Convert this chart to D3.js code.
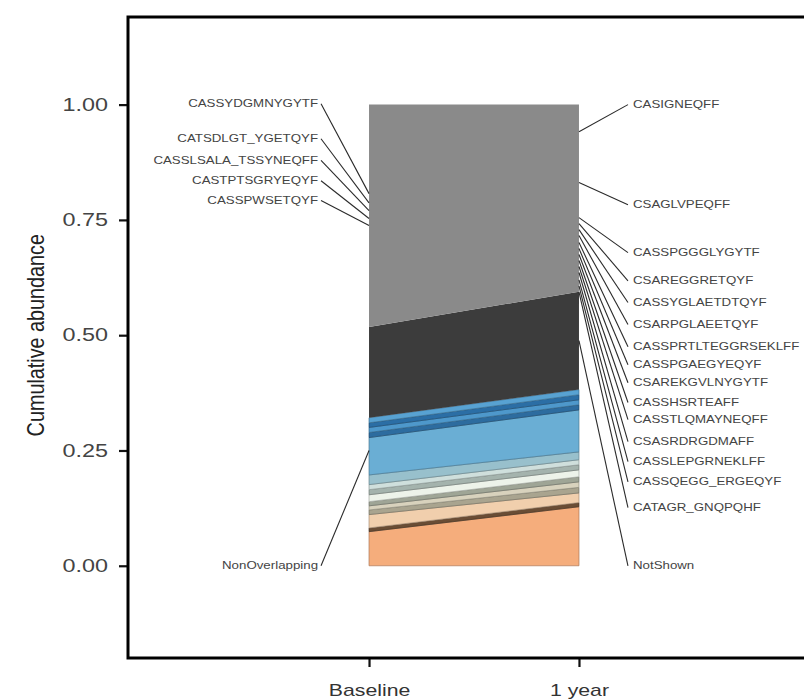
<!DOCTYPE html>
<html>
<head>
<meta charset="utf-8">
<script src="https://cdn.jsdelivr.net/npm/d3@7"></script>
<style>
  body { margin: 0; background: #fff; }
  svg text { font-family: "Liberation Sans", Arial, sans-serif; }
</style>
</head>
<body>
<div id="chart"></div>
<script>
// clonotype layers, bottom of the stack to the top
let layers = ["c01","c02","c03","c04","c05","c06","c07","c08","c09","c10",
              "NonOverlapping","c12","c13","c14","c15","NotShown","top"];
let baseline = [0.074,0.008,0.029,0.010,0.009,0.009,0.015,0.011,0.011,0.021,
                0.081,0.011,0.011,0.010,0.011,0.197,0.482];
let oneYear  = [0.128,0.009,0.021,0.012,0.012,0.011,0.015,0.011,0.011,0.017,
                0.091,0.011,0.011,0.011,0.011,0.212,0.406];
let timepoints = ["Baseline", "1 year"];
let yTicks = [0, 0.25, 0.5, 0.75, 1];

// labels on the left side (baseline)
let leftLabels = ["CASSYDGMNYGYTF","CATSDLGT_YGETQYF","CASSLSALA_TSSYNEQFF",
                  "CASTPTSGRYEQYF","CASSPWSETQYF","NonOverlapping"];
let leftLabelAt = [1.002, 0.926, 0.879, 0.835, 0.792, 0.0];
let leftTarget  = [0.807, 0.787, 0.770, 0.753, 0.738, 0.25];

// labels on the right side (1 year)
let rightLabels = ["CASIGNEQFF","CSAGLVPEQFF","CASSPGGGLYGYTF","CSAREGGRETQYF",
                   "CASSYGLAETDTQYF","CSARPGLAEETQYF","CASSPRTLTEGGRSEKLFF",
                   "CASSPGAEGYEQYF","CSAREKGVLNYGYTF","CASSHSRTEAFF",
                   "CASSTLQMAYNEQFF","CSASRDRGDMAFF","CASSLEPGRNEKLFF",
                   "CASSQEGG_ERGEQYF","CATAGR_GNQPQHF","NotShown"];
let rightLabelAt = [1.0, 0.783, 0.679, 0.618, 0.571, 0.523, 0.475, 0.436, 0.397,
                    0.354, 0.317, 0.269, 0.226, 0.182, 0.126, 0.0];
let rightTarget  = [0.941, 0.831, 0.755, 0.742, 0.729, 0.716, 0.701, 0.688, 0.675,
                    0.662, 0.649, 0.636, 0.620, 0.607, 0.594, 0.488];

let svgWidth = 804;
let svgHeight = 700;

let panel = { left: 128, top: 17, right: 820, bottom: 658 };

let svg = d3.select("#chart")
  .append("svg")
  .attr("width", svgWidth)
  .attr("height", svgHeight);

let x = d3.scalePoint()
  .domain(timepoints)
  .range([panel.left, panel.right])
  .padding(1.148);

let y = d3.scaleLinear()
  .domain([-0.2, 1.19])
  .range([panel.bottom, panel.top]);

let color = d3.scaleOrdinal()
  .domain(layers)
  .range(["#f5ad7c","#6a4d35","#f1cfad","#a9a48f","#d8d2bd","#9fa596","#edf3ea",
          "#a4b3ad","#cfdfdc","#98c0cc","#6aaed4","#2d6c9f","#4e98cb","#2b6ea5",
          "#58a2d2","#3c3c3c","#8a8a8a"]);

// build the table for d3.stack
let table = timepoints.map((t, i) => {
  let row = { time: t };
  layers.forEach((k, j) => { row[k] = i === 0 ? baseline[j] : oneYear[j]; });
  return row;
});

let series = d3.stack().keys(layers)(table);

let area = d3.area()
  .x(d => x(d.data.time))
  .y0(d => y(d[0]))
  .y1(d => y(d[1]));

svg.append("g")
  .selectAll("path")
  .data(series)
  .enter()
  .append("path")
  .attr("d", area)
  .attr("fill", d => color(d.key))
  .attr("stroke", d => (d.key === "top" || d.key === "NotShown") ? "none" : d3.color(color(d.key)).darker(1))
  .attr("stroke-width", 0.7);

// leader lines + labels
let xb = x("Baseline");
let xy = x("1 year");
let labelScale = 1.33;

let leftG = svg.append("g");
leftLabels.forEach((name, i) => {
  leftG.append("line")
    .attr("x1", xb - 48).attr("y1", y(leftLabelAt[i]))
    .attr("x2", xb).attr("y2", y(leftTarget[i]))
    .attr("stroke", "#2a2a2a").attr("stroke-width", 1.1);
  leftG.append("text")
    .attr("transform", `translate(${xb - 51},${y(leftLabelAt[i])}) scale(${labelScale},1)`)
    .attr("text-anchor", "end")
    .attr("dy", "0.35em")
    .attr("font-size", "10px")
    .attr("fill", "#444")
    .text(name);
});

let rightG = svg.append("g");
rightLabels.forEach((name, i) => {
  rightG.append("line")
    .attr("x1", xy).attr("y1", y(rightTarget[i]))
    .attr("x2", xy + 49).attr("y2", y(rightLabelAt[i]))
    .attr("stroke", "#2a2a2a").attr("stroke-width", 1.1);
  rightG.append("text")
    .attr("transform", `translate(${xy + 54},${y(rightLabelAt[i])}) scale(${labelScale},1)`)
    .attr("text-anchor", "start")
    .attr("dy", "0.35em")
    .attr("font-size", "10px")
    .attr("fill", "#444")
    .text(name);
});

// axes
let leftAxis = d3.axisLeft(y).tickValues(yTicks).tickSize(9).tickFormat(d3.format(".2f"));
let gy = svg.append("g")
  .attr("transform", `translate(${panel.left},0)`)
  .call(leftAxis);
gy.select(".domain").remove();
gy.selectAll("line").attr("stroke", "#111").attr("stroke-width", 2.2);
gy.selectAll("text")
  .attr("x", null)
  .attr("transform", "translate(-20,0) scale(1.3,1)")
  .attr("font-size", "18px")
  .attr("fill", "#444");

let bottomAxis = d3.axisBottom(x).tickSize(9);
let gx = svg.append("g")
  .attr("transform", `translate(0,${panel.bottom})`)
  .call(bottomAxis);
gx.select(".domain").remove();
gx.selectAll("line").attr("stroke", "#111").attr("stroke-width", 2.2);
gx.selectAll("text")
  .attr("y", null)
  .attr("dy", null)
  .attr("transform", "translate(0,38) scale(1.25,1)")
  .attr("font-size", "17px")
  .attr("fill", "#333");

// panel border
svg.append("rect")
  .attr("x", panel.left)
  .attr("y", panel.top)
  .attr("width", panel.right - panel.left)
  .attr("height", panel.bottom - panel.top)
  .attr("fill", "none")
  .attr("stroke", "#000")
  .attr("stroke-width", 3);

// y axis title
svg.append("text")
  .attr("transform", `translate(44,${(y(0) + y(1)) / 2}) rotate(-90) scale(1.1,1.3)`)
  .attr("text-anchor", "middle")
  .attr("font-size", "18px")
  .attr("fill", "#222")
  .text("Cumulative abundance");
</script>
</body>
</html>
